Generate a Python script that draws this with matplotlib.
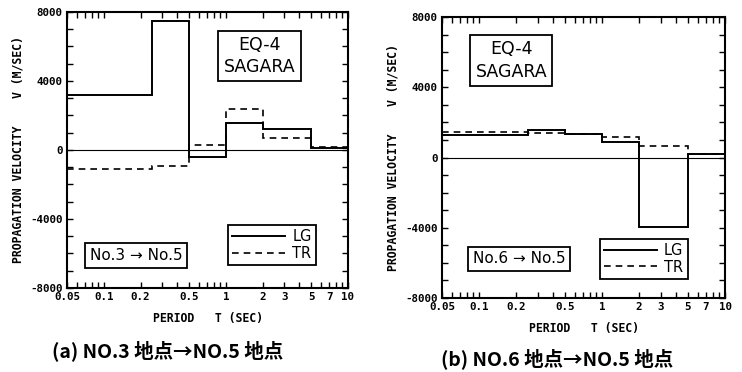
import matplotlib
matplotlib.use("Agg")
import matplotlib.pyplot as plt
from matplotlib.ticker import FixedLocator, FixedFormatter, MultipleLocator
from matplotlib.lines import Line2D

# Period bins (sec)
edges = [0.05, 0.25, 0.5, 1, 2, 5, 10]

# (a) No.3 -> No.5
lg_a = [3200, 7500, -400, 1550, 1200, 100]
tr_a = [-1100, -900, 300, 2400, 700, 200]

# (b) No.6 -> No.5
lg_b = [1300, 1570, 1320, 890, -3930, 190]
tr_b = [1470, 1420, 1360, 1190, 660, 210]

xticks = [0.05, 0.1, 0.2, 0.5, 1, 2, 3, 5, 7, 10]
xticklabels = ["0.05", "0.1", "0.2", "0.5", "1", "2", "3", "5", "7", "10"]
yticks = [-8000, -4000, 0, 4000, 8000]

plt.rcParams['font.family'] = ['Noto Sans CJK JP', 'DejaVu Sans']
plt.rcParams['axes.unicode_minus'] = False
mono = {'family': 'DejaVu Sans Mono', 'weight': 'bold', 'size': 7.8}
lab_font = {'family': 'DejaVu Sans Mono', 'weight': 'bold', 'size': 8.3}

fig = plt.figure(figsize=(7.42, 3.72), dpi=100)
ax1 = fig.add_axes([0.0903, 0.2258, 0.3787, 0.742])
ax2 = fig.add_axes([0.5957, 0.1989, 0.3814, 0.7554])


def setup(ax, lg, tr, route, eq_box, route_box, leg_box):
    ax.set_xscale('log')
    ax.set_xlim(0.05, 10)
    ax.set_ylim(-8000, 8000)
    ax.axhline(0, color='black', lw=0.8)
    ax.stairs(lg, edges, baseline=None, color='black', lw=1.4, ls='-')
    ax.stairs(tr, edges, baseline=None, color='black', lw=1.2, ls=(0, (4, 3)))

    ax.xaxis.set_major_locator(FixedLocator(xticks))
    ax.xaxis.set_major_formatter(FixedFormatter(xticklabels))
    minors = [m * d for d in (0.01, 0.1, 1) for m in range(1, 10)]
    minors = [v for v in minors if 0.05 <= v <= 10 and round(v, 3) not in xticks]
    ax.xaxis.set_minor_locator(FixedLocator(minors))
    ax.xaxis.set_minor_formatter(FixedFormatter([]))
    ax.yaxis.set_major_locator(FixedLocator(yticks))
    ax.yaxis.set_minor_locator(MultipleLocator(1000))
    ax.tick_params(which='both', direction='in', top=True, right=True,
                   length=4, width=1.0, pad=3)
    for lab in ax.get_xticklabels() + ax.get_yticklabels():
        lab.set_fontproperties(mono)
    for s in ax.spines.values():
        s.set_linewidth(1.5)

    ax.set_xlabel("PERIOD   T (SEC)", fontdict=lab_font, labelpad=7)
    ax.set_ylabel("PROPAGATION VELOCITY    V (M/SEC)", fontdict=lab_font, labelpad=4)

    ax.text(eq_box[0], eq_box[1], "EQ-4\nSAGARA", transform=ax.transAxes,
            ha='center', va='center', fontsize=12.5, family='DejaVu Sans',
            linespacing=1.3,
            bbox=dict(boxstyle='square,pad=0.3', fc='white', ec='black', lw=1.3))
    ax.text(route_box[0], route_box[1], route, transform=ax.transAxes,
            ha='center', va='center', fontsize=11, family='DejaVu Sans',
            bbox=dict(boxstyle='square,pad=0.3', fc='white', ec='black', lw=1.3))

    handles = [Line2D([], [], color='black', lw=1.4),
               Line2D([], [], color='black', lw=1.2, ls=(0, (4, 3)))]
    leg = ax.legend(handles, ["LG", "TR"], loc='lower left',
                    bbox_to_anchor=leg_box, fancybox=False, edgecolor='black',
                    framealpha=1, handlelength=3.6, handletextpad=0.5,
                    borderpad=0.3, borderaxespad=0,
                    labelspacing=0.1, prop={'family': 'DejaVu Sans', 'size': 10.5})
    leg.get_frame().set_linewidth(1.3)


setup(ax1, lg_a, tr_a, "No.3 \u2192 No.5", (0.685, 0.84), (0.245, 0.118), (0.573, 0.083))
setup(ax2, lg_b, tr_b, "No.6 \u2192 No.5", (0.245, 0.845), (0.272, 0.14), (0.558, 0.068))

fig.text(0.226, 0.058, "(a) NO.3 地点\u2192NO.5 地点", ha='center', va='center',
         fontsize=14, weight='bold')
fig.text(0.751, 0.036, "(b) NO.6 地点\u2192NO.5 地点", ha='center', va='center',
         fontsize=14, weight='bold')

fig.savefig("out.png", dpi=100)
